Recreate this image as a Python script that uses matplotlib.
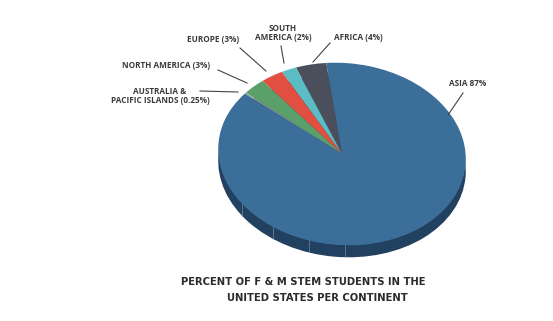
import numpy as np
import matplotlib.pyplot as plt
from matplotlib.transforms import Affine2D
from matplotlib.patches import Ellipse

# data (percent), drawn counterclockwise starting at the top
continents = ["Africa", "South America", "Europe", "North America",
              "Australia & Pacific Islands", "Asia"]
shares = [4, 2, 3, 3, 0.25, 87]
colors = ["#4b4e5b", "#5cbcc3", "#e04f3f", "#5b9f6b", "#8fa39a", "#3c6e9a"]

# label text, position in pixels (x, y from top)
label_text = ["AFRICA (4%)", "SOUTH\nAMERICA (2%)", "EUROPE (3%)", "NORTH AMERICA (3%)",
              "AUSTRALIA &\nPACIFIC ISLANDS (0.25%)", "ASIA 87%"]
label_pos = [(358, 38), (283, 33), (213, 39), (166, 66), (160, 96), (468, 84)]
leader_lines = [((330, 43), (313, 62)), ((281, 46), (284, 63)), ((240, 48), (266, 71)),
                ((218, 70), (247, 83)), ((200, 91), (238, 92)), ((463, 93), (448, 115))]

W, H = 553, 321
fig = plt.figure(figsize=(W / 100, H / 100), dpi=100)
ax = fig.add_axes([0, 0, 1, 1])
ax.set_xlim(0, W)
ax.set_ylim(0, H)
ax.axis("off")

cx, cy = 342, H - 154
rx, ry = 124, 91
tilt = -5
depth = 12

# side of the disc
side = Ellipse((cx, cy - depth), 2 * rx, 2 * ry, angle=tilt,
               facecolor="#22405f", edgecolor="none", zorder=1)
ax.add_patch(side)
ct, st = np.cos(np.radians(tilt)), np.sin(np.radians(tilt))
for a in [220, 240, 258, 275]:
    t = np.radians(a)
    px = cx + rx * np.cos(t) * ct - ry * np.sin(t) * st
    py = cy + rx * np.cos(t) * st + ry * np.sin(t) * ct
    ax.plot([px, px], [py, py - depth], color="#6f8aa6", lw=0.5, zorder=1.5)

wedges, _ = ax.pie(shares, colors=colors, startangle=101, counterclock=True,
                   wedgeprops=dict(linewidth=0), radius=1, center=(0, 0))
tr = Affine2D().scale(rx, ry).rotate_deg(tilt).translate(cx, cy) + ax.transData
for w in wedges:
    w.set_transform(tr)
    w.set_zorder(2)
ax.set_xlim(0, W)
ax.set_ylim(0, H)
ax.set_aspect("auto")

for txt, (x, y) in zip(label_text, label_pos):
    ax.text(x, H - y, txt, ha="center", va="center", fontsize=5.9,
            fontweight="bold", color="#3a3a3a", family="Open Sans",
            linespacing=1.1, zorder=3)
for (x0, y0), (x1, y1) in leader_lines:
    ax.plot([x0, x1], [H - y0, H - y1], color="#444444", lw=0.8, zorder=3)

title_font = dict(fontsize=8.0, fontweight="bold", color="#2b2b2b",
                  family="DejaVu Sans", fontstretch="condensed", ha="center", va="center")
ax.text(303, H - 282, "PERCENT OF F & M STEM STUDENTS IN THE", **title_font)
ax.text(317, H - 298, "UNITED STATES PER CONTINENT", **title_font)

fig.savefig("out.png", dpi=100, facecolor="white")
